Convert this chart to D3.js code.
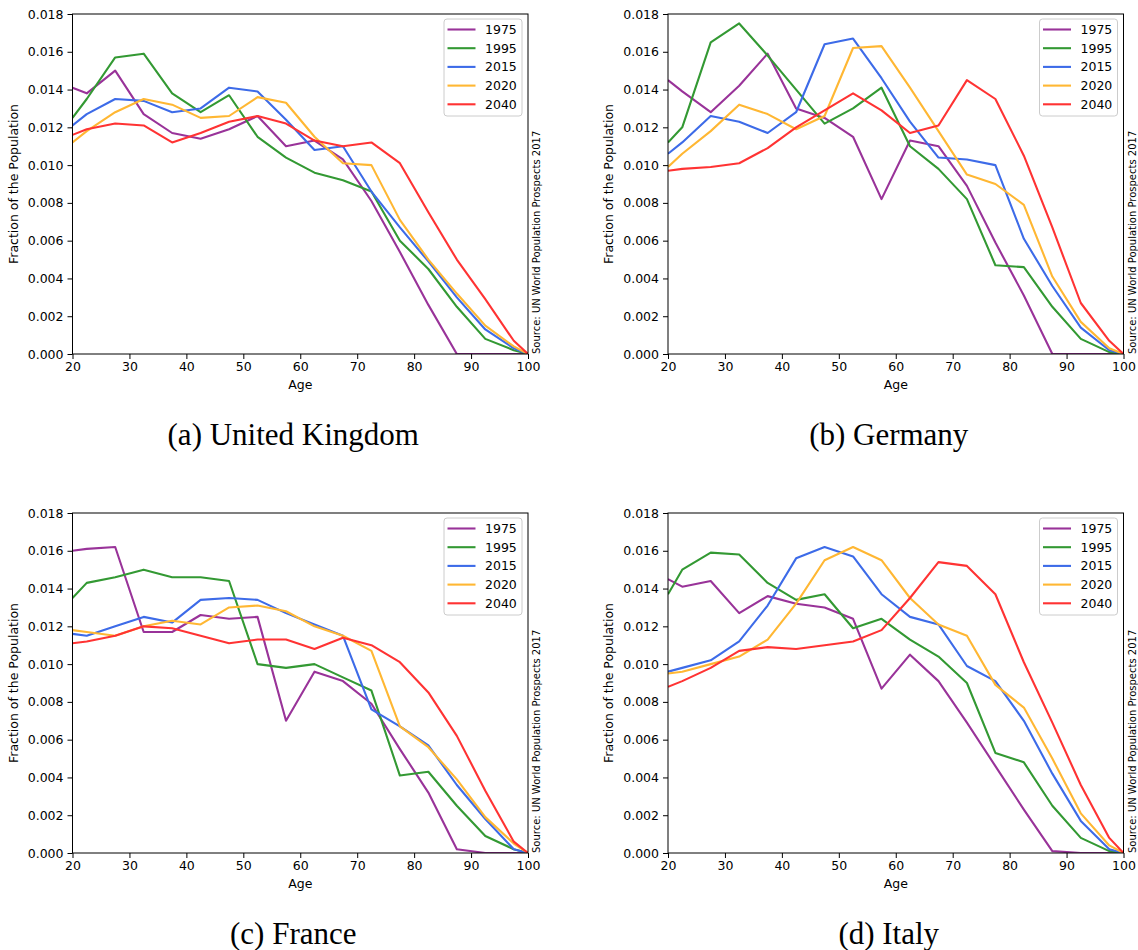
<!DOCTYPE html>
<html>
<head>
<meta charset="utf-8">
<script src="https://cdn.jsdelivr.net/npm/d3@7/dist/d3.min.js"></script>
<style>
  body { margin: 0; background: #fff; }
  svg { display: block; }
  .tick text { font-family: "DejaVu Sans", sans-serif; font-size: 12.5px; fill: #000; }
</style>
</head>
<body>
<div id="chart"></div>
<script>
// age sampling points (centres of the 5-year groups)
const ages = [20, 22.5, 27.5, 32.5, 37.5, 42.5, 47.5, 52.5, 57.5, 62.5, 67.5, 72.5, 77.5, 82.5, 87.5, 92.5, 97.5, 100];
const years = ['1975', '1995', '2015', '2020', '2040'];
const colors = ['#993399', '#339933', '#3d6be8', '#ffb733', '#ff3333'];
const yTicks = [0, 0.002, 0.004, 0.006, 0.008, 0.010, 0.012, 0.014, 0.016, 0.018];
const xTicks = [20, 30, 40, 50, 60, 70, 80, 90, 100];

// United Kingdom, one row per year
const ukSeries = [
  [0.0141, 0.0138, 0.0150, 0.0127, 0.0117, 0.0114, 0.0119, 0.0126, 0.0110, 0.0113, 0.0103, 0.0081, 0.0054, 0.0026, 0.0, 0.0, 0.0, 0.0],
  [0.0125, 0.0135, 0.0157, 0.0159, 0.0138, 0.0128, 0.0137, 0.0115, 0.0104, 0.0096, 0.0092, 0.0086, 0.0060, 0.0045, 0.0025, 0.0008, 0.0002, 0.0],
  [0.0121, 0.0127, 0.0135, 0.0134, 0.0128, 0.0130, 0.0141, 0.0139, 0.0124, 0.0108, 0.0110, 0.0086, 0.0067, 0.0049, 0.0030, 0.0013, 0.0003, 0.0],
  [0.0112, 0.0118, 0.0128, 0.0135, 0.0132, 0.0125, 0.0126, 0.0136, 0.0133, 0.0115, 0.0101, 0.0100, 0.0071, 0.0050, 0.0032, 0.0015, 0.0004, 0.0],
  [0.0116, 0.0119, 0.0122, 0.0121, 0.0112, 0.0117, 0.0123, 0.0126, 0.0122, 0.0113, 0.0110, 0.0112, 0.0101, 0.0075, 0.0050, 0.0029, 0.0007, 0.0]
];

// Germany
const deSeries = [
  [0.0145, 0.0139, 0.0128, 0.0142, 0.0159, 0.0130, 0.0125, 0.0115, 0.0082, 0.0113, 0.0110, 0.0089, 0.0059, 0.0031, 0.0, 0.0, 0.0, 0.0],
  [0.0112, 0.0120, 0.0165, 0.0175, 0.0158, 0.0140, 0.0122, 0.0130, 0.0141, 0.0110, 0.0098, 0.0082, 0.0047, 0.0046, 0.0025, 0.0008, 0.0001, 0.0],
  [0.0106, 0.0112, 0.0126, 0.0123, 0.0117, 0.0128, 0.0164, 0.0167, 0.0146, 0.0123, 0.0104, 0.0103, 0.0100, 0.0061, 0.0036, 0.0014, 0.0002, 0.0],
  [0.0099, 0.0106, 0.0118, 0.0132, 0.0127, 0.0119, 0.0126, 0.0162, 0.0163, 0.0141, 0.0118, 0.0095, 0.0090, 0.0079, 0.0041, 0.0017, 0.0003, 0.0],
  [0.0097, 0.0098, 0.0099, 0.0101, 0.0109, 0.0120, 0.0129, 0.0138, 0.0129, 0.0117, 0.0121, 0.0145, 0.0135, 0.0105, 0.0067, 0.0027, 0.0007, 0.0]
];

// France
const frSeries = [
  [0.0160, 0.0161, 0.0162, 0.0117, 0.0117, 0.0126, 0.0124, 0.0125, 0.0070, 0.0096, 0.0091, 0.0079, 0.0055, 0.0032, 0.0002, 0.0, 0.0, 0.0],
  [0.0135, 0.0143, 0.0146, 0.0150, 0.0146, 0.0146, 0.0144, 0.0100, 0.0098, 0.0100, 0.0093, 0.0086, 0.0041, 0.0043, 0.0025, 0.0009, 0.0002, 0.0],
  [0.0116, 0.0115, 0.0120, 0.0125, 0.0122, 0.0134, 0.0135, 0.0134, 0.0127, 0.0121, 0.0115, 0.0076, 0.0067, 0.0057, 0.0036, 0.0018, 0.0002, 0.0],
  [0.0118, 0.0117, 0.0115, 0.0120, 0.0123, 0.0121, 0.0130, 0.0131, 0.0128, 0.0120, 0.0115, 0.0107, 0.0067, 0.0056, 0.0039, 0.0019, 0.0005, 0.0],
  [0.0111, 0.0112, 0.0115, 0.0120, 0.0119, 0.0115, 0.0111, 0.0113, 0.0113, 0.0108, 0.0114, 0.0110, 0.0101, 0.0085, 0.0062, 0.0033, 0.0006, 0.0]
];

// Italy
const itSeries = [
  [0.0145, 0.0141, 0.0144, 0.0127, 0.0136, 0.0132, 0.0130, 0.0124, 0.0087, 0.0105, 0.0091, 0.0069, 0.0046, 0.0023, 0.0001, 0.0, 0.0, 0.0],
  [0.0137, 0.0150, 0.0159, 0.0158, 0.0143, 0.0134, 0.0137, 0.0119, 0.0124, 0.0113, 0.0104, 0.0090, 0.0053, 0.0048, 0.0025, 0.0008, 0.0001, 0.0],
  [0.0096, 0.0098, 0.0102, 0.0112, 0.0131, 0.0156, 0.0162, 0.0157, 0.0137, 0.0125, 0.0121, 0.0099, 0.0091, 0.0070, 0.0042, 0.0017, 0.0002, 0.0],
  [0.0095, 0.0096, 0.0100, 0.0104, 0.0113, 0.0132, 0.0155, 0.0162, 0.0155, 0.0135, 0.0121, 0.0115, 0.0089, 0.0077, 0.0050, 0.0021, 0.0004, 0.0],
  [0.0088, 0.0091, 0.0098, 0.0107, 0.0109, 0.0108, 0.0110, 0.0112, 0.0118, 0.0135, 0.0154, 0.0152, 0.0137, 0.0101, 0.0069, 0.0036, 0.0008, 0.0]
];

const panels = [
  { caption: '(a) United Kingdom', series: ukSeries, left: 72.5, top: 14 },
  { caption: '(b) Germany', series: deSeries, left: 668, top: 14 },
  { caption: '(c) France', series: frSeries, left: 72.5, top: 513 },
  { caption: '(d) Italy', series: itSeries, left: 668, top: 513 }
];

const width = 1138;
const height = 950;
const plotW = 455.5;
const plotH = 340;

const svg = d3
  .select('#chart')
  .append('svg')
  .attr('width', width)
  .attr('height', height);

panels.forEach((p, pi) => {
  const g = svg.append('g').attr('transform', `translate(${p.left},${p.top})`);

  const x = d3.scaleLinear().domain([20, 100]).range([0, plotW]);
  const y = d3.scaleLinear().domain([0, 0.018]).range([plotH, 0]);

  const clipId = 'clip' + pi;
  g.append('clipPath')
    .attr('id', clipId)
    .append('rect')
    .attr('width', plotW)
    .attr('height', plotH);

  const line = d3
    .line()
    .x((d, i) => x(ages[i]))
    .y((d) => y(d));

  const lines = g.append('g').attr('clip-path', `url(#${clipId})`);
  p.series.forEach((s, si) => {
    lines
      .append('path')
      .attr('d', line(s))
      .attr('fill', 'none')
      .attr('stroke', colors[si])
      .attr('stroke-width', 2.1)
      .attr('stroke-linejoin', 'round');
  });

  // axes
  const xAxis = d3.axisBottom(x).tickValues(xTicks).tickSize(5).tickPadding(3).tickFormat(d3.format('d'));
  const yAxis = d3.axisLeft(y).tickValues(yTicks).tickSize(5).tickPadding(4).tickFormat(d3.format('.3f'));
  g.append('g')
    .attr('transform', `translate(0,${plotH})`)
    .call(xAxis)
    .call((a) => a.select('.domain').remove());
  g.append('g')
    .call(yAxis)
    .call((a) => a.select('.domain').remove());
  g.selectAll('.tick line').attr('stroke', '#000').attr('stroke-width', 1);

  // frame
  g.append('rect')
    .attr('width', plotW)
    .attr('height', plotH)
    .attr('fill', 'none')
    .attr('stroke', '#000')
    .attr('stroke-width', 1);

  // axis labels
  g.append('text')
    .attr('x', plotW / 2)
    .attr('y', plotH + 35)
    .attr('text-anchor', 'middle')
    .style('font-family', 'DejaVu Sans, sans-serif')
    .style('font-size', '12.5px')
    .text('Age');
  g.append('text')
    .attr('transform', `translate(-55,${plotH / 2}) rotate(-90)`)
    .attr('text-anchor', 'middle')
    .style('font-family', 'DejaVu Sans, sans-serif')
    .style('font-size', '12.5px')
    .text('Fraction of the Population');

  // source note
  g.append('text')
    .attr('transform', `translate(${plotW + 12},${plotH}) rotate(-90)`)
    .attr('text-anchor', 'start')
    .style('font-family', 'DejaVu Sans, sans-serif')
    .style('font-size', '10px')
    .text('Source: UN World Population Prospects 2017');

  // legend
  const lg = g.append('g').attr('transform', `translate(${plotW - 84},5)`);
  lg.append('rect')
    .attr('width', 78)
    .attr('height', 97)
    .attr('rx', 3)
    .attr('ry', 3)
    .attr('fill', 'rgba(255,255,255,0.8)')
    .attr('stroke', '#cccccc')
    .attr('stroke-width', 1);
  years.forEach((yr, i) => {
    const row = lg.append('g').attr('transform', `translate(0,${10.5 + i * 18.7})`);
    row.append('line')
      .attr('x1', 3.5)
      .attr('x2', 31.5)
      .attr('stroke', colors[i])
      .attr('stroke-width', 2.1);
    row.append('text')
      .attr('x', 41)
      .attr('y', 4.5)
      .style('font-family', 'DejaVu Sans, sans-serif')
      .style('font-size', '12.5px')
      .text(yr);
  });

  // caption
  svg.append('text')
    .attr('x', p.left + plotW / 2 - 7)
    .attr('y', p.top + 431)
    .attr('text-anchor', 'middle')
    .style('font-family', 'Liberation Serif, Times New Roman, serif')
    .style('font-size', '31px')
    .text(p.caption);
});
</script>
</body>
</html>
